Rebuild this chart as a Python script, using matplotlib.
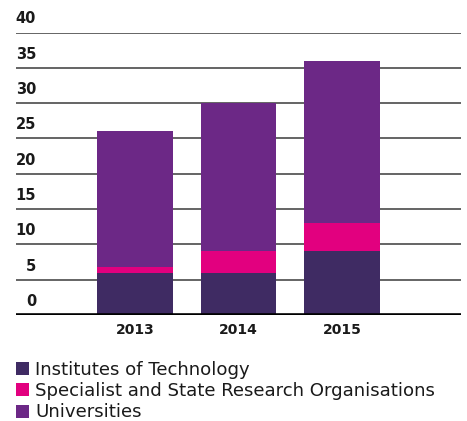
import matplotlib
matplotlib.use("Agg")
import matplotlib.pyplot as plt
from matplotlib.patches import Patch
from matplotlib.transforms import blended_transform_factory
import numpy as np

years = ["2013", "2014", "2015"]
institutes = [6, 6, 9]
specialist = [0.8, 3, 4]
universities = [19.2, 21, 23]
series_names = ["Institutes of Technology",
                "Specialist and State Research Organisations",
                "Universities"]
colors = ["#3F2B63", "#E2007F", "#6C2886"]
y_ticks = [0, 5, 10, 15, 20, 25, 30, 35, 40]

plt.rcParams["font.family"] = ["DejaVu Sans"]

fig = plt.figure(figsize=(4.67, 4.21), dpi=100)
ax = fig.add_axes([0.0343, 0.2518, 0.9529, 0.671])

x = np.arange(len(years))
bottom = np.zeros(len(years))
for vals, col in zip([institutes, specialist, universities], colors):
    ax.bar(x, vals, width=0.733, bottom=bottom, color=col, zorder=3)
    bottom += np.array(vals)

ax.set_xlim(-1.15, 3.15)
ax.set_ylim(0, 40)

# horizontal rules with labels sitting just above each line
trans = blended_transform_factory(ax.transAxes, ax.transData)
for t in y_ticks:
    if t == 0:
        ax.axhline(t, color="black", lw=2.6, zorder=4)
    else:
        ax.axhline(t, color="#4a4a4a", lw=1.2, zorder=1)
    ax.text(0.045, t + 0.85, str(t), transform=trans, ha="right", va="bottom",
            fontsize=10.5, fontweight="semibold", color="#1a1a1a")

for s in ax.spines.values():
    s.set_visible(False)
ax.set_yticks([])
ax.set_xticks(x)
ax.set_xticklabels(years, fontsize=10, fontweight="bold", color="#1a1a1a")
ax.tick_params(axis="x", length=0, pad=6)

handles = [Patch(facecolor=c, edgecolor="none") for c in colors]
fig.legend(handles, series_names, loc="upper left",
           bbox_to_anchor=(0.034, 0.142), frameon=False, fontsize=13.1,
           handlelength=0.72, handleheight=0.72, handletextpad=0.35,
           labelspacing=0.17, borderpad=0, borderaxespad=0, labelcolor="#1a1a1a")

fig.savefig("out.png", dpi=100)
